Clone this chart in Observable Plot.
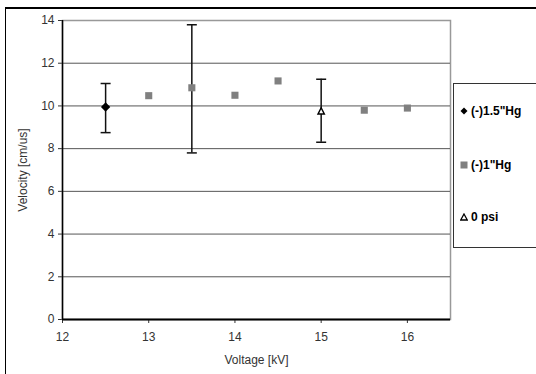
<!DOCTYPE html>
<html>
<head>
<meta charset="utf-8">
<script src="https://cdn.jsdelivr.net/npm/d3@7"></script>
<script src="https://cdn.jsdelivr.net/npm/@observablehq/plot@0.6"></script>
<style>
  html, body { margin: 0; padding: 0; background: #fff; }
  #wrap { position: relative; width: 536px; height: 374px; overflow: hidden; font-family: "Liberation Sans", Arial, sans-serif; }
  #outer { position: absolute; left: 5px; top: 7px; width: 600px; height: 400px; border-left: 1.5px solid #000; border-top: 2px solid #000; box-sizing: border-box; pointer-events: none; }
  #legend { position: absolute; left: 453px; top: 83px; width: 120px; height: 165px; border: 1px solid #333; background: #fff; box-sizing: border-box; }
  .item { position: absolute; left: 6px; display: flex; align-items: center; font-size: 12px; font-weight: bold; color: #000; white-space: nowrap; }
  .item svg { margin-right: 3px; }
</style>
</head>
<body>
<div id="wrap">
  <div id="chart"></div>
  <div id="outer"></div>
  <div id="legend"></div>
</div>
<script>
// Series: (-)1.5"Hg
const hg15Voltage = [12.5];
const hg15Velocity = [9.95];
const hg15ErrLow = [8.75];
const hg15ErrHigh = [11.05];

// Series: (-)1"Hg
const hg1Voltage = [13, 13.5, 14, 14.5, 15.5, 16];
const hg1Velocity = [10.48, 10.85, 10.5, 11.17, 9.8, 9.9];
// error bar only at 13.5 kV
const hg1ErrVoltage = [13.5];
const hg1ErrLow = [7.8];
const hg1ErrHigh = [13.8];

// Series: 0 psi
const psi0Voltage = [15];
const psi0Velocity = [9.75];
const psi0ErrLow = [8.3];
const psi0ErrHigh = [11.25];

const xTicks = [12, 13, 14, 15, 16];
const yTicks = [0, 2, 4, 6, 8, 10, 12, 14];
const gridY = [2, 4, 6, 8, 10, 12];

const seriesNames = ['(-)1.5"Hg', '(-)1"Hg', '0 psi'];

const hg15 = hg15Voltage.map((v, i) => ({x: v, y: hg15Velocity[i]}));
const hg1 = hg1Voltage.map((v, i) => ({x: v, y: hg1Velocity[i]}));
const psi0 = psi0Voltage.map((v, i) => ({x: v, y: psi0Velocity[i]}));
const errs = [
  ...hg15Voltage.map((v, i) => ({x: v, lo: hg15ErrLow[i], hi: hg15ErrHigh[i]})),
  ...hg1ErrVoltage.map((v, i) => ({x: v, lo: hg1ErrLow[i], hi: hg1ErrHigh[i]})),
  ...psi0Voltage.map((v, i) => ({x: v, lo: psi0ErrLow[i], hi: psi0ErrHigh[i]}))
];
const caps = errs.flatMap(d => [{x: d.x, y: d.lo}, {x: d.x, y: d.hi}]);
const capSymbol = {draw(ctx) { ctx.moveTo(-5, 0); ctx.lineTo(5, 0); }};
const triSymbol = {draw(ctx) { ctx.moveTo(0, -3.5); ctx.lineTo(3.2, 2.8); ctx.lineTo(-3.2, 2.8); ctx.closePath(); }};

const chart = Plot.plot({
  width: 536,
  height: 374,
  marginLeft: 62,
  marginRight: 86,
  marginTop: 20,
  marginBottom: 55,
  style: {fontFamily: '"Liberation Sans", Arial, sans-serif', fontSize: "12px", color: "#333", background: "transparent"},
  x: {domain: [12, 16.5], ticks: xTicks, tickSize: 4, tickPadding: 9, label: "Voltage [kV]", labelAnchor: "center", labelOffset: 44, labelArrow: "none", tickFormat: d => d},
  y: {domain: [0, 14], ticks: yTicks, tickSize: 4, tickPadding: 4, label: "Velocity [cm/us]", labelAnchor: "center", labelOffset: 44, labelArrow: "none"},
  marks: [
    Plot.frame({stroke: "#999", strokeWidth: 1.5}),
    Plot.ruleY(gridY, {stroke: "#555", strokeWidth: 1}),
    Plot.ruleX([12], {stroke: "#000", strokeWidth: 1.5}),
    Plot.ruleY([0], {stroke: "#000", strokeWidth: 2}),
    Plot.ruleX(errs, {x: "x", y1: "lo", y2: "hi", stroke: "#111", strokeWidth: 1.5}),
    Plot.dot(caps, {x: "x", y: "y", symbol: capSymbol, stroke: "#111", strokeWidth: 1.5, fill: "none"}),
    Plot.dot(hg1, {x: "x", y: "y", symbol: "square", r: 4, fill: "#808080", stroke: "none"}),
    Plot.dot(hg15, {x: "x", y: "y", symbol: "diamond2", r: 4.2, fill: "#000", stroke: "none"}),
    Plot.dot(psi0, {x: "x", y: "y", symbol: triSymbol, fill: "#fff", stroke: "#000", strokeWidth: 1.4})
  ]
});
document.getElementById("chart").appendChild(chart);

// Legend
const legend = document.getElementById("legend");
const symbols = [
  '<svg width="8" height="8"><path d="M4 0.5 L7.5 4 L4 7.5 L0.5 4 Z" fill="#000"/></svg>',
  '<svg width="8" height="8"><rect x="0.5" y="0.5" width="7" height="7" fill="#808080"/></svg>',
  '<svg width="8" height="8"><path d="M4 1 L7.3 7 L0.7 7 Z" fill="#fff" stroke="#000" stroke-width="1.3"/></svg>'
];
const itemTops = [20, 74, 126];
seriesNames.forEach((name, i) => {
  const el = document.createElement("div");
  el.className = "item";
  el.style.top = itemTops[i] + "px";
  el.innerHTML = symbols[i];
  const t = document.createElement("span");
  t.textContent = name;
  el.appendChild(t);
  legend.appendChild(el);
});
</script>
</body>
</html>
